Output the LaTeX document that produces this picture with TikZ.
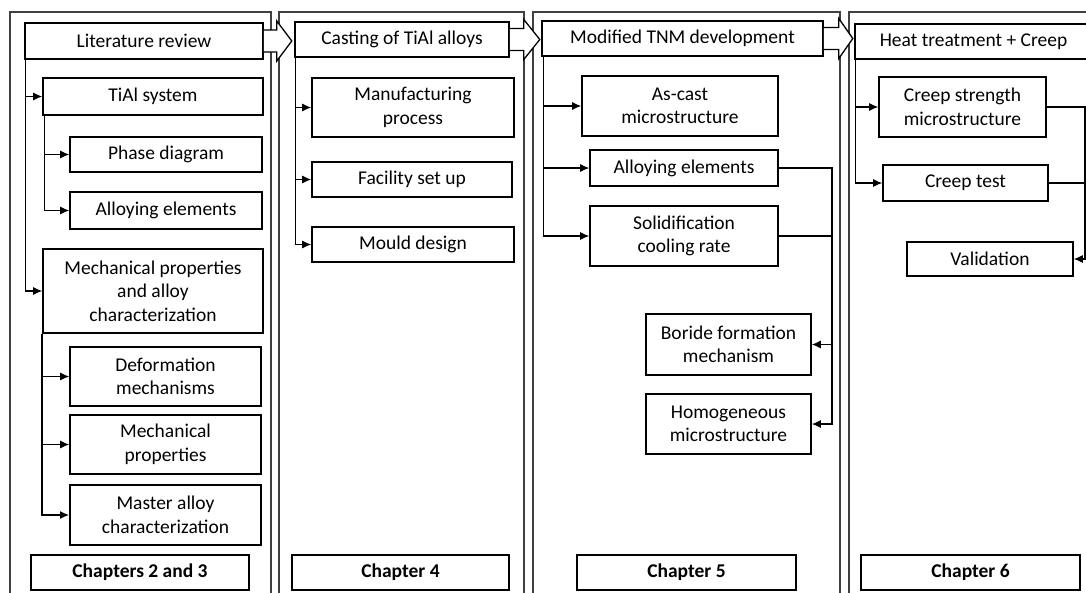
\documentclass[tikz,border=0pt]{standalone}
\usepackage{fontspec}
\setmainfont{Carlito}
\usetikzlibrary{arrows.meta, calc}

\begin{document}
\begin{tikzpicture}[
        x=1pt, y=-1pt,
        >={Latex[length=9pt,width=8pt]},
        every node/.style={font=\fontsize{19.5}{23.5}\selectfont},
        box/.style={rectangle, draw, line width=1.6pt, align=center, inner sep=2pt},
        chapbox/.style={box, font=\fontsize{19.5}{23.5}\selectfont\bfseries},
        frame/.style={draw=black!75, line width=1.1pt},
        link/.style={line width=1.1pt},
        trunk/.style={line width=1.8pt},
        blockarr/.style={draw, fill=white, line width=1.3pt, line join=miter}
    ]
        \useasboundingbox (0,0) rectangle (1086,592);

        % Column frames
        \draw[frame] (10,12) rectangle (271,600);
        \draw[frame] (279,12) rectangle (524,600);
        \draw[frame] (533,12) rectangle (840,600);
        \draw[frame] (849,12) rectangle (1100,600);

        % Nodes: chapters 2 and 3
        \node[box, minimum width=238, minimum height=36] (litrev) at (144,41) {Literature review};
        \node[box, minimum width=220, minimum height=37] (tial) at (153,96.5) {TiAl system};
        \node[box, minimum width=192, minimum height=35] (phase) at (166,154.5) {Phase diagram};
        \node[box, minimum width=192, minimum height=37] (alloyA) at (166,210.5) {Alloying elements};
        \node[box, minimum width=220, minimum height=84] (mech) at (153,291) {Mechanical properties \\ and alloy \\ characterization};
        \node[box, minimum width=191, minimum height=59] (deform) at (165.5,376.5) {Deformation \\ mechanisms};
        \node[box, minimum width=191, minimum height=59] (mechprop) at (165.5,444.5) {Mechanical \\ properties};
        \node[box, minimum width=191, minimum height=60] (master) at (165.5,515) {Master alloy \\ characterization};
        \node[chapbox, minimum width=218, minimum height=35] (chA) at (140,572.5) {Chapters 2 and 3};

        % Nodes: chapter 4
        \node[box, minimum width=214, minimum height=35] (casting) at (402,39.5) {Casting of TiAl alloys};
        \node[box, minimum width=202, minimum height=59] (manuf) at (413,107.5) {Manufacturing \\ process};
        \node[box, minimum width=200, minimum height=35] (facility) at (412,179.5) {Facility set up};
        \node[box, minimum width=202, minimum height=35] (mould) at (413,244.5) {Mould design};
        \node[chapbox, minimum width=217, minimum height=35] (chB) at (400.5,572.5) {Chapter 4};

        % Nodes: chapter 5
        \node[box, minimum width=281, minimum height=35] (tnm) at (682.5,38.5) {Modified TNM development};
        \node[box, minimum width=196, minimum height=60] (ascast) at (680,106) {As-cast \\ microstructure};
        \node[box, minimum width=188, minimum height=36] (alloyB) at (684,168) {Alloying elements};
        \node[box, minimum width=188, minimum height=60] (solid) at (684,236) {Solidification \\ cooling rate};
        \node[box, minimum width=165, minimum height=61] (boride) at (728.5,344.5) {Boride formation \\ mechanism};
        \node[box, minimum width=165, minimum height=60] (homog) at (728.5,424) {Homogeneous \\ microstructure};
        \node[chapbox, minimum width=219, minimum height=35] (chC) at (686.5,572.5) {Chapter 5};

        % Nodes: chapter 6
        \node[box, minimum width=237, minimum height=35] (heat) at (973.5,41.5) {Heat treatment + Creep};
        \node[box, minimum width=167, minimum height=60] (creepstr) at (962.5,107) {Creep strength \\ microstructure};
        \node[box, minimum width=165, minimum height=36] (creeptest) at (965.5,183) {Creep test};
        \node[box, minimum width=166, minimum height=34] (valid) at (990,259) {Validation};
        \node[chapbox, minimum width=219, minimum height=35] (chD) at (970.5,572.5) {Chapter 6};

        % Block arrows between columns
        \draw[blockarr] (litrev.east) ++(0,-11) -- ++(13,0) -- ++(0,-9) -- ++(15,20) -- ++(-15,20) -- ++(0,-9) -- ++(-13,0);
        \draw[blockarr] (casting.east) ++(0,-11) -- ++(14,0) -- ++(0,-9) -- ++(16,20) -- ++(-16,20) -- ++(0,-9) -- ++(-14,0);
        \draw[blockarr] (tnm.east) ++(0,-11) -- ++(15,0) -- ++(0,-9) -- ++(14,20) -- ++(-14,20) -- ++(0,-9) -- ++(-15,0);

        % Arrows: chapters 2 and 3
        \draw[link, ->] (litrev.south west) ++(1,0) |- (tial.west);
        \draw[link, ->] (litrev.south west) ++(1,0) |- (mech.west);
        \draw[link, ->] (tial.south west) ++(2,0) |- (phase.west);
        \draw[link, ->] (tial.south west) ++(2,0) |- (alloyA.west);
        \draw[link, ->] (mech.south west) |- (deform.west);
        \draw[link, ->] (mech.south west) |- (mechprop.west);
        \draw[trunk, ->] (mech.south west) |- (master.west);

        % Arrows: chapter 4
        \draw[link, ->] (casting.south west) ++(1,0) |- (manuf.west);
        \draw[link, ->] (casting.south west) ++(1,0) |- (facility.west);
        \draw[link, ->] (casting.south west) ++(1,0) |- (mould.west);

        % Arrows: chapter 5
        \coordinate (busC) at (832,0);
        \draw[link, ->] (tnm.south west) ++(2,0) |- (ascast.west);
        \draw[link, ->] (tnm.south west) ++(2,0) |- (alloyB.west);
        \draw[link, ->] (tnm.south west) ++(2,0) |- (solid.west);
        \draw[link, ->] (alloyB.east) -- (alloyB.east -| busC) |- (homog.east);
        \draw[link] (solid.east) -- (solid.east -| busC);
        \draw[link, ->] (boride.east -| busC) -- (boride.east);

        % Arrows: chapter 6
        \coordinate (busD) at (1085,0);
        \draw[link, ->] (heat.south west) ++(1,0) |- (creepstr.west);
        \draw[link, ->] (heat.south west) ++(1,0) |- (creeptest.west);
        \draw[link, ->] (creepstr.east) -- (creepstr.east -| busD) |- (valid.east);
        \draw[link] (creeptest.east) -- (creeptest.east -| busD);

    \end{tikzpicture}
\end{document}
